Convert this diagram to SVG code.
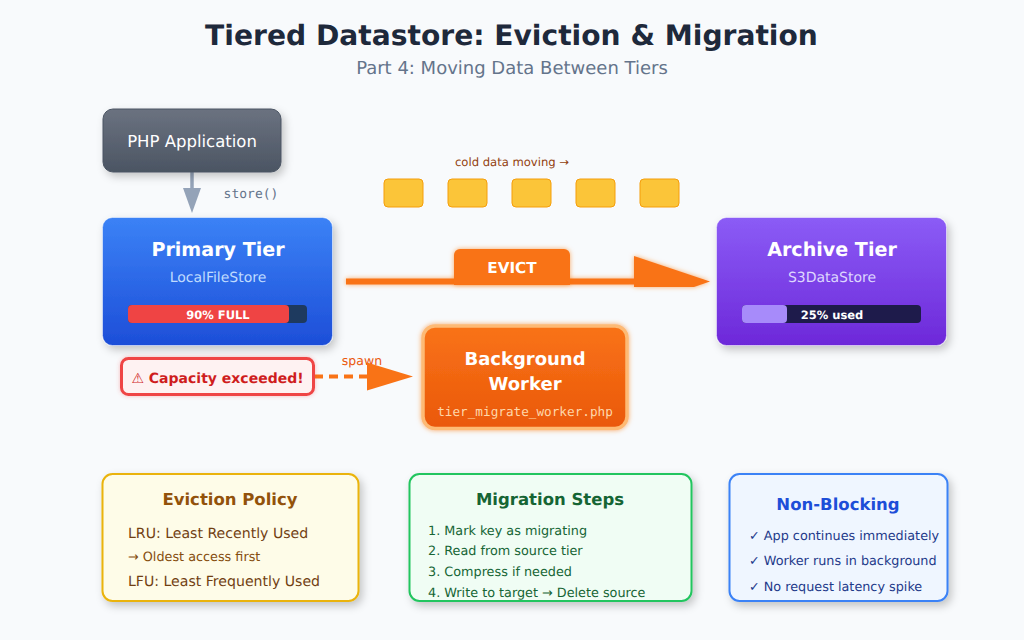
<svg xmlns="http://www.w3.org/2000/svg" width="1024" height="640" viewBox="0 0 1024 640">
<defs>
<linearGradient id="gPhp" x1="0" y1="0" x2="0" y2="1"><stop offset="0" stop-color="#6b7280"/><stop offset="1" stop-color="#4b5563"/></linearGradient>
<linearGradient id="gBlue" x1="0" y1="0" x2="0" y2="1"><stop offset="0" stop-color="#3b82f6"/><stop offset="1" stop-color="#1d4ed8"/></linearGradient>
<linearGradient id="gPurple" x1="0" y1="0" x2="0" y2="1"><stop offset="0" stop-color="#8b5cf6"/><stop offset="1" stop-color="#6d28d9"/></linearGradient>
<linearGradient id="gOrange" x1="0" y1="0" x2="0" y2="1"><stop offset="0" stop-color="#f97316"/><stop offset="1" stop-color="#ea580c"/></linearGradient>
<filter id="shadow" x="-20%" y="-20%" width="140%" height="150%"><feDropShadow dx="3" dy="4" stdDeviation="4.500" flood-color="#000" flood-opacity="0.22"/></filter>
<filter id="glow" filterUnits="userSpaceOnUse" x="0" y="0" width="1024" height="640"><feDropShadow dx="0" dy="0" stdDeviation="2.500" flood-color="#f97316" flood-opacity="0.6"/></filter>
<filter id="glowRed" x="-10%" y="-30%" width="120%" height="160%"><feDropShadow dx="0" dy="0" stdDeviation="2" flood-color="#ef4444" flood-opacity="0.35"/></filter>
<marker id="headStore" markerUnits="userSpaceOnUse" markerWidth="26" markerHeight="18" refX="0" refY="9" orient="auto" overflow="visible"><path d="M0 0L25 9L0 18Z" fill="#94a3b8"/></marker>
<marker id="headEvict" markerUnits="userSpaceOnUse" markerWidth="76" markerHeight="32" refX="0" refY="25.5" orient="auto" overflow="visible"><path d="M0 0L76 25.5L60 31H0Z" fill="#f97316"/></marker>
<marker id="headSpawn" markerUnits="userSpaceOnUse" markerWidth="46" markerHeight="28" refX="0" refY="14" orient="auto" overflow="visible"><path d="M0 0L46 14L0 28Z" fill="#f97316"/></marker>
</defs>
<style>
text{font-family:"DejaVu Sans",sans-serif;text-anchor:middle;text-rendering:geometricPrecision}
.mono{font-family:"DejaVu Sans Mono",monospace}
.b{font-weight:700}
.l{text-anchor:start}
.w{fill:#fff}
.block{fill:#fbbf24;fill-opacity:.9;stroke:#f59e0b;stroke-width:1}
.edge{stroke:#fff;stroke-opacity:.5;stroke-width:1}
</style>
<rect width="1024" height="640" fill="#f8fafc"/>
<text x="511.500" y="45" font-size="28.150" class="b" fill="#1e293b">Tiered Datastore: Eviction &amp; Migration</text>
<text x="512" y="74" font-size="18" fill="#64748b">Part 4: Moving Data Between Tiers</text>

<text x="251" y="198" font-size="13" class="mono" fill="#64748b">store()</text>
<text x="362" y="364.500" font-size="12.500" fill="#ea580c">spawn</text>
<text x="512" y="166" font-size="11.600" fill="#92400e">cold data moving →</text>

<g id="connectors">
<line x1="192" y1="172" x2="192" y2="188" stroke="#94a3b8" stroke-width="3.500" marker-end="url(#headStore)"/>
<g filter="url(#glow)">
<line x1="346" y1="281.500" x2="634" y2="281.500" stroke="#f97316" stroke-width="6" marker-end="url(#headEvict)"/>
</g>
<line x1="314" y1="376.500" x2="367" y2="376.500" stroke="#f97316" stroke-width="4" stroke-dasharray="9 6" marker-end="url(#headSpawn)"/>
</g>

<g id="php-application">
<rect x="103" y="109" width="178" height="63" rx="10" fill="url(#gPhp)" stroke="#4b5563" filter="url(#shadow)"/>
<text x="192" y="147" font-size="16.500" class="w">PHP Application</text>
</g>
<g id="data-blocks">
<rect class="block" x="384" y="179" width="39" height="28" rx="4"/>
<rect class="block" x="448" y="179" width="39" height="28" rx="4"/>
<rect class="block" x="512" y="179" width="39" height="28" rx="4"/>
<rect class="block" x="576" y="179" width="39" height="28" rx="4"/>
<rect class="block" x="640" y="179" width="39" height="28" rx="4"/>
</g>
<g id="primary-tier">
<rect class="edge" x="102.500" y="217.500" width="230" height="128" rx="10" fill="url(#gBlue)" filter="url(#shadow)"/>
<text x="218" y="256" font-size="19.100" class="b w">Primary Tier</text>
<text x="218" y="282" font-size="14" fill="#bfdbfe">LocalFileStore</text>
<rect x="128" y="305" width="179" height="18" rx="4" fill="#1e3a5f"/>
<rect x="128" y="305" width="161" height="18" rx="4" fill="#ef4444"/>
<text x="218" y="319" font-size="11.500" class="b w">90% FULL</text>
</g>
<g id="archive-tier">
<rect class="edge" x="716.500" y="217.500" width="230" height="128" rx="10" fill="url(#gPurple)" filter="url(#shadow)"/>
<text x="832" y="256" font-size="19.100" class="b w">Archive Tier</text>
<text x="832" y="282" font-size="14" fill="#ddd6fe">S3DataStore</text>
<rect x="742" y="305" width="179" height="18" rx="4" fill="#1e1b4b"/>
<rect x="742" y="305" width="45" height="18" rx="4" fill="#a78bfa"/>
<text x="832" y="319" font-size="11.500" class="b w">25% used</text>
</g>
<g id="evict-label">
<path d="M454 285V255a6 6 0 0 1 6-6H564a6 6 0 0 1 6 6V285Z" fill="#f97316" filter="url(#glow)"/>
<text x="512" y="272.500" font-size="15.200" class="b w">EVICT</text>
</g>
<g id="capacity-alert">
<rect x="121.500" y="358.500" width="192" height="36" rx="7" fill="#fef2f2" stroke="#ef4444" stroke-width="3" filter="url(#glowRed)"/>
<text x="217.500" y="383" font-size="14" class="b" fill="#cf1d1d">⚠ Capacity exceeded!</text>
</g>
<g id="background-worker">
<rect x="423" y="326" width="204" height="102.500" rx="12" fill="url(#gOrange)" stroke="#fdba74" stroke-width="3.500" filter="url(#glow)"/>
<text x="525" y="365" font-size="18" class="b w">Background</text>
<text x="525" y="390" font-size="18" class="b w">Worker</text>
<text x="525" y="416" font-size="12.700" class="mono" fill="#fed7aa">tier_migrate_worker.php</text>
</g>
<g id="eviction-policy">
<rect x="102.500" y="474" width="256" height="127" rx="10" fill="#fefce8" stroke="#eab308" stroke-width="2" filter="url(#shadow)"/>
<text x="230" y="505" font-size="16.500" class="b" fill="#92520a">Eviction Policy</text>
<text x="128" y="538" font-size="14.100" class="l" fill="#713f12">LRU: Least Recently Used</text>
<text x="128" y="561" font-size="12.800" class="l" fill="#854d0e">→ Oldest access first</text>
<text x="128" y="586" font-size="14.100" class="l" fill="#713f12">LFU: Least Frequently Used</text>
</g>
<g id="migration-steps">
<rect x="409.500" y="474" width="282" height="127" rx="10" fill="#f0fdf4" stroke="#22c55e" stroke-width="2" filter="url(#shadow)"/>
<text x="550" y="505" font-size="16.500" class="b" fill="#166534">Migration Steps</text>
<text x="428" y="535" font-size="12.800" class="l" fill="#166534">1. Mark key as migrating</text>
<text x="428" y="555" font-size="12.800" class="l" fill="#166534">2. Read from source tier</text>
<text x="428" y="576" font-size="12.800" class="l" fill="#166534">3. Compress if needed</text>
<text x="428" y="596.500" font-size="12.800" class="l" fill="#166534">4. Write to target → Delete source</text>
</g>
<g id="non-blocking">
<rect x="729.500" y="474" width="218" height="127" rx="10" fill="#eff6ff" stroke="#3b82f6" stroke-width="2" filter="url(#shadow)"/>
<text x="838" y="510" font-size="16.500" class="b" fill="#1d4ed8">Non-Blocking</text>
<text x="749" y="540" font-size="12.800" class="l" fill="#1e3a8a">✓ App continues immediately</text>
<text x="749" y="565" font-size="12.800" class="l" fill="#1e3a8a">✓ Worker runs in background</text>
<text x="749" y="591" font-size="12.800" class="l" fill="#1e3a8a">✓ No request latency spike</text>
</g>
</svg>
